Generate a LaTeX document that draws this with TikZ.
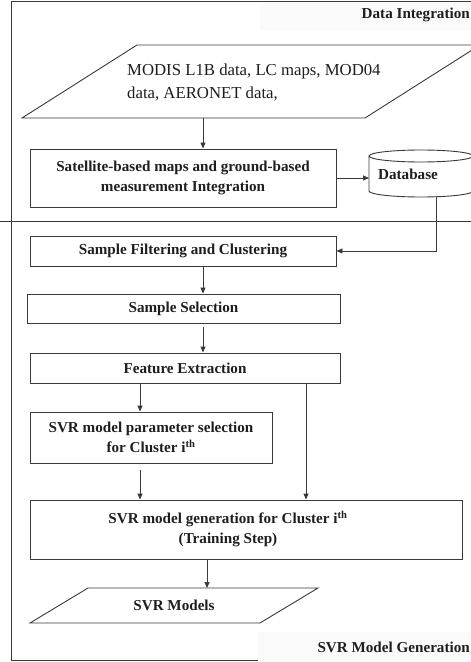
\documentclass[tikz,border=0pt]{standalone}
\usepackage{fontspec}
\setmainfont{Liberation Serif}
\usetikzlibrary{arrows.meta}
\definecolor{ink}{HTML}{3A3A3A}
\definecolor{txtc}{HTML}{1E1E1E}
\definecolor{tagbg}{HTML}{FAFAFA}
\begin{document}
\begin{tikzpicture}[x=1bp,y=-1bp,
  line/.style={draw=ink, line width=0.9bp},
  flow/.style={line, -{Triangle[length=6bp,width=5bp]}},
  bfont/.style={font=\fontsize{15.2}{19.5}\selectfont\bfseries, text=txtc},
  stepbox/.style={line, fill=white, bfont, align=center, inner sep=0pt},
  txt/.style={bfont, align=center, inner sep=0pt},
]
\useasboundingbox (0,0) rectangle (471,662);
\clip (0,0) rectangle (471,662);

% outer frame and section divider
\draw[line] (471,1) -- (11,1) -- (11,660) -- (258,660);
\draw[line] (0,221) -- (471,221);

% section tags
\fill[tagbg] (260,3) rectangle (471,30);
\node[txt, anchor=east] (tag-di) at (470,15) {Data Integration};
\fill[tagbg] (258,632) rectangle (471,662);
\node[txt, anchor=east] (tag-svr) at (470,647) {SVR Model Generation};

% input data
\draw[line, fill=white] (22,118) -- (137,45) -- (480,45) -- (365,118) -- cycle;
\node[anchor=west, align=left, inner sep=0pt, text=txtc,
      font=\fontsize{16.8}{23}\selectfont] (src) at (127,82.5)
  {MODIS L1B data, LC maps, MOD04\\data, AERONET data,};
\coordinate (src-out) at (203,118);

% integration step
\node[stepbox, minimum width=306bp, minimum height=58bp] (integ) at (183,178)
  {Satellite-based maps and ground-based\\measurement Integration};

% database cylinder
\draw[line, fill=white] (369,156) -- (369,191)
  arc[start angle=180, end angle=360, x radius=52bp, y radius=6bp] -- (473,156);
\draw[line, fill=white] (421,156) ellipse [x radius=52bp, y radius=6bp];
\node[txt] (db) at (408,174) {Database};
\coordinate (db-in) at (369,178);
\coordinate (db-out) at (436,196.7);

% processing chain
\node[stepbox, minimum width=306bp, minimum height=30bp] (filt) at (183,251)
  {Sample Filtering and Clustering};
\node[stepbox, minimum width=313bp, minimum height=29bp] (sel) at (183.5,308.5)
  {Sample Selection};
\node[stepbox, minimum width=310bp, minimum height=30bp] (feat) at (185,368)
  {Feature Extraction};
\node[stepbox, minimum width=242bp, minimum height=51bp] (param) at (151,437.5)
  {SVR model parameter selection\\for Cluster i\textsuperscript{th}};
\node[stepbox, minimum width=432bp, minimum height=59bp] (gen) at (246,529.5) {};
\node[txt] (gen-t) at (228,529)
  {SVR model generation for Cluster i\textsuperscript{th}\\(Training Step)};

% output models
\draw[line, fill=white] (30,623) -- (88,588) -- (318,588) -- (260,623) -- cycle;
\node[txt] (models) at (174,605) {SVR Models};
\coordinate (models-in) at (207,588);

% connectors
\draw[flow] (src-out) -- (src-out |- integ.north);
\draw[flow] (integ.east |- db-in) -- (db-in);
\draw[flow] (db-out) |- (filt.east);
\draw[flow] ([xshift=20bp]filt.south) -- ([xshift=20bp]filt.south |- sel.north);
\draw[flow] ([xshift=19.5bp,yshift=-4bp]sel.south) -- ([xshift=19.5bp]sel.south |- feat.north);
\draw[flow] ([xshift=-45bp]feat.south) -- ([xshift=-45bp]feat.south |- param.north);
\draw[flow] ([xshift=121bp]feat.south) -- ([xshift=121bp]feat.south |- gen.north);
\draw[flow] ([xshift=-11bp,yshift=-7bp]param.south) -- ([xshift=-11bp]param.south |- gen.north);
\draw[flow] ([xshift=-39bp]gen.south) -- ([xshift=-39bp]gen.south |- models-in);
\end{tikzpicture}
\end{document}
